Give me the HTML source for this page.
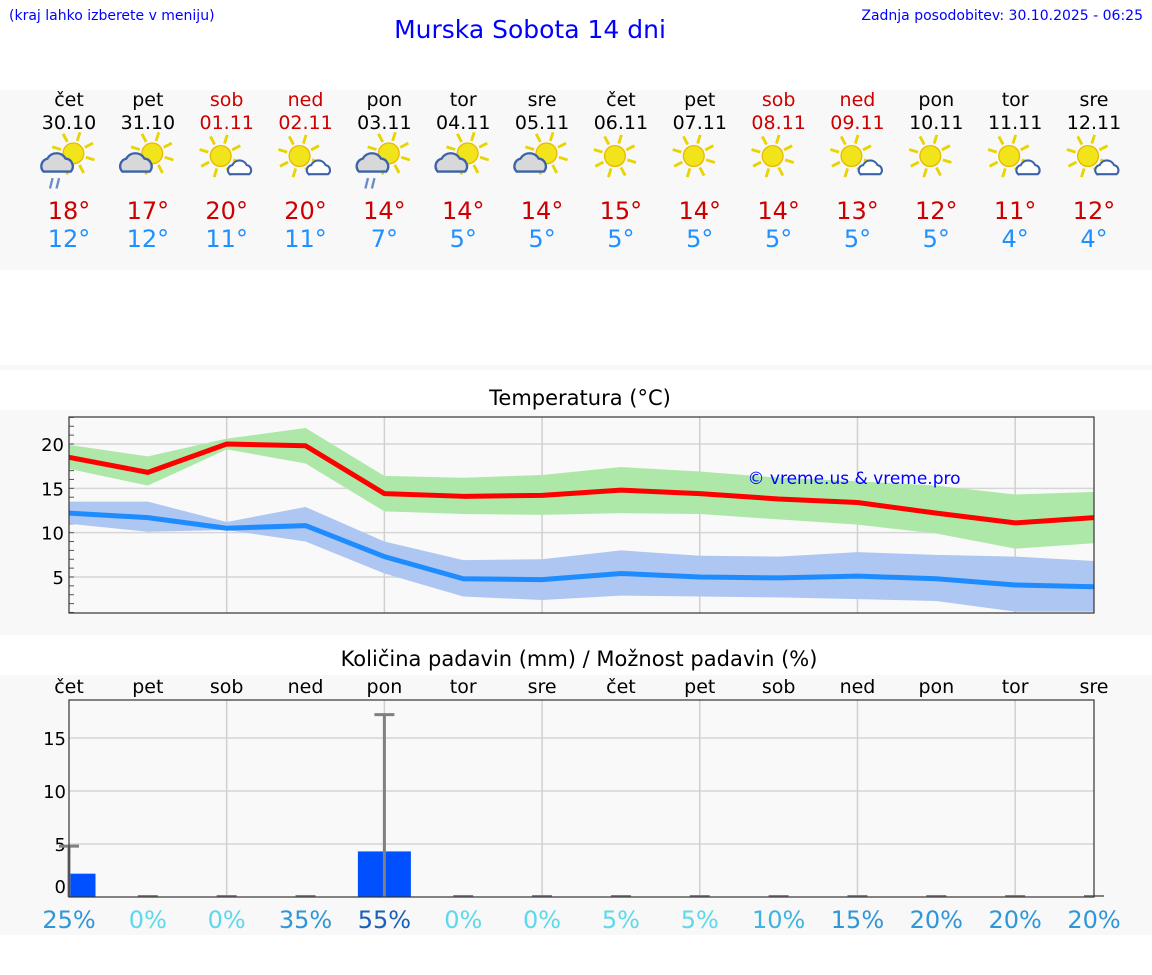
<!DOCTYPE html>
<html><head><meta charset="utf-8"><style>
body{margin:0;width:1152px;height:975px;background:#fff;font-family:"DejaVu Sans","Liberation Sans",sans-serif;position:relative;overflow:hidden}
.a{position:absolute}
</style></head><body>
<div class="a" style="left:9px;top:8px;font-size:14px;color:#00f">(kraj lahko izberete v meniju)</div>
<div class="a" style="left:0;width:1060px;top:15px;text-align:center;font-size:25px;color:#00f">Murska Sobota 14 dni</div>
<div class="a" style="right:9px;top:8px;font-size:14px;color:#00f">Zadnja posodobitev: 30.10.2025 - 06:25</div>
<div class="a" style="left:0;top:90px;width:1152px;height:180px;background:#f8f8f8"></div>
<div class="a" style="left:0;top:365px;width:1152px;height:5px;background:#f8f8f8"></div>
<div class="a" style="left:0;top:410px;width:1152px;height:225px;background:#f8f8f8"></div>
<div class="a" style="left:0;top:675px;width:1152px;height:260px;background:#f8f8f8"></div>
<div class="a" style="left:0;width:1160px;top:386px;text-align:center;font-size:21px">Temperatura (°C)</div>
<div class="a" style="left:0;width:1158px;top:647px;text-align:center;font-size:21px">Količina padavin (mm) / Možnost padavin (%)</div>
<div id="days"></div>
<svg id="chart" class="a" style="left:0;top:0" width="1152" height="975"></svg>
<script>
const dayNames=["čet","pet","sob","ned","pon","tor","sre","čet","pet","sob","ned","pon","tor","sre"];
const dates=["30.10","31.10","01.11","02.11","03.11","04.11","05.11","06.11","07.11","08.11","09.11","10.11","11.11","12.11"];
const weekend=[0,0,1,1,0,0,0,0,0,1,1,0,0,0];
const icons=["rain","cloud","small","small","rain","cloud","cloud","sun","sun","sun","small","sun","small","small"];
const hiLabels=[18,17,20,20,14,14,14,15,14,14,13,12,11,12];
const loLabels=[12,12,11,11,7,5,5,5,5,5,5,5,4,4];
const maxT=[18.5,16.8,20,19.8,14.4,14.1,14.2,14.8,14.4,13.8,13.4,12.2,11.1,11.7];
const maxHi=[19.9,18.6,20.6,21.8,16.4,16.2,16.5,17.4,16.9,16.2,15.8,15.3,14.3,14.6];
const maxLo=[17.2,15.3,19.4,17.8,12.4,12.1,12.0,12.2,12.1,11.5,10.9,9.9,8.2,8.8];
const minT=[12.2,11.7,10.5,10.8,7.3,4.8,4.7,5.4,5.0,4.9,5.1,4.8,4.1,3.9];
const minHi=[13.5,13.5,11.2,12.9,9.0,6.9,7.0,8.0,7.4,7.3,7.8,7.5,7.3,6.8];
const minLo=[11.0,10.1,10.3,9.0,5.4,2.8,2.4,2.9,2.8,2.7,2.5,2.3,1.1,1.1];
const tempTicks=[5,10,15,20];
const precip=[2.2,0,0,0,4.3,0,0,0,0,0,0,0,0,0];
const precipMax=[4.8,0,0,0,17.2,0,0,0,0,0,0,0,0,0];
const chance=[25,0,0,35,55,0,0,5,5,10,15,20,20,20];
const precipTicks=[0,5,10,15];
const NS="http://www.w3.org/2000/svg";
const svg=document.getElementById('chart');
function mk(t,a,p){const e=document.createElementNS(NS,t);for(const k in a)e.setAttribute(k,a[k]);(p||svg).appendChild(e);return e;}
const X=i=>69+i*(1025/13);
const TY=v=>577-(v-5)*(133/15);
const PY=v=>897-v*(53/5);
const days=document.getElementById('days');
for(let i=0;i<14;i++){
  const c=X(i);
  const d=document.createElement('div');d.className='a';
  
  
  d.style.cssText=`left:${c-45}px;width:90px;top:89px;text-align:center;font-size:19px;line-height:23px;color:${weekend[i]?'#c00':'#000'}`;
  d.innerHTML=dayNames[i]+'<br>'+dates[i];
  days.appendChild(d);
  const t=document.createElement('div');t.className='a';
  
  
  t.style.cssText=`left:${c-45}px;width:90px;top:197px;text-align:center;font-size:24px;line-height:28px`;
  t.innerHTML=`<span style="color:#c00">${hiLabels[i]}°</span><br><span style="color:#1e90ff">${loLabels[i]}°</span>`;
  days.appendChild(t);
  const type=icons[i];
  const g=mk('g',{transform:`translate(${c-6},156) scale(1.3)`});
  
  
  const sx=type==='cloud'||type==='rain'?8:0, sy=type==='cloud'||type==='rain'?-2:0;
  for(let k=0;k<8;k++){const a=k*Math.PI/4+0.3;mk('line',{x1:sx+Math.cos(a)*10,y1:sy+Math.sin(a)*10,x2:sx+Math.cos(a)*17,y2:sy+Math.sin(a)*17,stroke:'#e8d400','stroke-width':2.2},g);}
  mk('circle',{cx:sx,cy:sy,r:8,fill:'#f2e41a',stroke:'#e8b800','stroke-width':1},g);
  if(type==='cloud'||type==='rain'){
    mk('path',{d:'M-15,12 a6,6 0 0 1 3,-10 a8,8 0 0 1 14,0 a6,6 0 0 1 4,10 z',fill:'#d8d8d8',stroke:'#3b62a8','stroke-width':1.8},g);
    if(type==='rain'){mk('line',{x1:-8,y1:17,x2:-10,y2:25,stroke:'#6a8ac8','stroke-width':1.8},g);mk('line',{x1:-3,y1:17,x2:-5,y2:25,stroke:'#6a8ac8','stroke-width':1.8},g);}
  } else if(type==='small'){
    mk('path',{d:'M7,14 a4,4 0 0 1 2,-7 a6,6 0 0 1 11,0 a4,4 0 0 1 2,7 z',fill:'#fff',stroke:'#3b62a8','stroke-width':1.6},g);
  }
}
mk('rect',{x:69,y:417,width:1025,height:196,fill:'#f9f9f9'});
for(const v of tempTicks){mk('line',{x1:69,x2:1094,y1:TY(v),y2:TY(v),stroke:'#d6d6d6','stroke-width':1.5});
  const t=mk('text',{x:64,y:TY(v)+7,'text-anchor':'end','font-size':18});t.textContent=v;}
for(let v=1;v<=23;v++)mk('line',{x1:69,x2:74,y1:TY(v),y2:TY(v),stroke:'#555'});
for(let i=2;i<13;i+=2)mk('line',{x1:X(i),x2:X(i),y1:417,y2:613,stroke:'#d0d0d0','stroke-width':1.5});
function band(hi,lo,fill,name){let d='';hi.forEach((v,i)=>d+=(i?'L':'M')+X(i)+','+TY(v));for(let i=lo.length-1;i>=0;i--)d+='L'+X(i)+','+TY(lo[i]);const p=mk('path',{d:d+'Z',fill:fill});}
function line(arr,col,name){const p=mk('polyline',{points:arr.map((v,i)=>X(i)+','+TY(v)).join(' '),fill:'none',stroke:col,'stroke-width':5,'stroke-linejoin':'round'});}
band(maxHi,maxLo,'#aee8a8','max-temp-band');
band(minHi,minLo,'#adc6f2','min-temp-band');
line(maxT,'#ff0000','max-temp-line');
line(minT,'#1e8cff','min-temp-line');
mk('rect',{x:69,y:417,width:1025,height:196,fill:'none',stroke:'#333','stroke-width':1.2});
const wm=mk('text',{x:854,y:484,'text-anchor':'middle','font-size':17,fill:'#00f'});wm.textContent='© vreme.us & vreme.pro';
mk('rect',{x:69,y:700,width:1025,height:197,fill:'#f9f9f9'});
for(const v of precipTicks){if(v>0)mk('line',{x1:69,x2:1094,y1:PY(v),y2:PY(v),stroke:'#d6d6d6','stroke-width':1.5});
  const t=mk('text',{x:66,y:PY(v)+7-(v===0?11:0),'text-anchor':'end','font-size':18});t.textContent=v;}
for(let i=2;i<13;i+=2)mk('line',{x1:X(i),x2:X(i),y1:700,y2:897,stroke:'#d0d0d0','stroke-width':1.5});
const chanceCol=p=>p>=50?'#1a5fb8':p>=15?'#2f96d8':p>=10?'#3fb4e0':'#5dd8ec';
for(let i=0;i<14;i++){
  const c=X(i);
  const t=mk('text',{x:c,y:693,'text-anchor':'middle','font-size':19});t.textContent=dayNames[i];
  if(precip[i]>0){const b=mk('rect',{x:Math.max(69,c-26.5),y:PY(precip[i]),width:c-26.5<69?c+26.5-69:53,height:PY(0)-PY(precip[i]),fill:'#0050ff'});
    }
  if(precipMax[i]>0){mk('line',{x1:c,x2:c,y1:PY(0),y2:PY(precipMax[i]),stroke:'#808080','stroke-width':3});
    mk('line',{x1:c-10,x2:c+10,y1:PY(precipMax[i]),y2:PY(precipMax[i]),stroke:'#808080','stroke-width':3});}
  else mk('line',{x1:c-10,x2:c+10,y1:896,y2:896,stroke:'#808080','stroke-width':2});
  const p=mk('text',{x:c,y:928,'text-anchor':'middle','font-size':24,fill:chanceCol(chance[i])});p.textContent=chance[i]+'%';
}
mk('rect',{x:69,y:700,width:1025,height:197,fill:'none',stroke:'#333','stroke-width':1.2});
</script>
</body></html>
